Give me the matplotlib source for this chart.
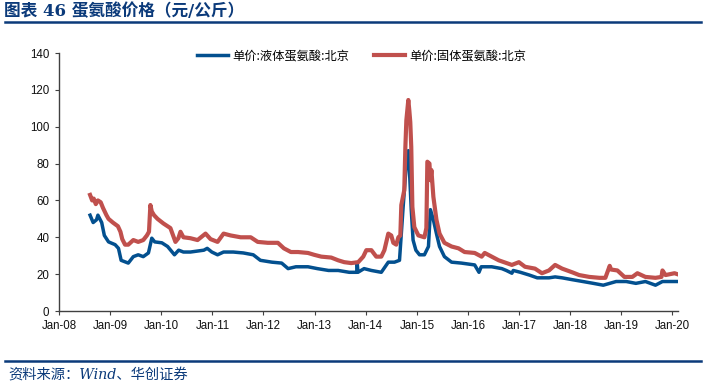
import matplotlib
matplotlib.use("Agg")
import matplotlib.pyplot as plt
import matplotlib.dates as mdates
from matplotlib.lines import Line2D
import pandas as pd

plt.rcParams['font.family'] = ['Liberation Sans', 'Noto Sans CJK SC', 'DejaVu Sans']

title_text = "图表 46 蛋氨酸价格（元/公斤）"
source_text = "资料来源：Wind、华创证券"
label_liquid = "单价:液体蛋氨酸:北京"
label_solid = "单价:固体蛋氨酸:北京"

solid_dates = [
    "2008-08-10", "2008-08-25", "2008-09-05", "2008-09-20", "2008-10-05", "2008-10-25",
    "2008-11-10", "2008-12-05", "2008-12-20", "2009-01-20", "2009-02-25", "2009-03-15",
    "2009-03-28", "2009-04-17", "2009-05-10", "2009-06-15", "2009-07-20", "2009-08-25",
    "2009-09-20", "2009-10-05", "2009-10-15", "2009-10-25", "2009-11-10", "2009-12-05",
    "2010-01-16", "2010-03-07", "2010-04-12", "2010-05-03", "2010-05-18", "2010-06-08",
    "2010-07-28", "2010-09-17", "2010-11-13", "2010-12-19", "2011-02-07", "2011-03-22",
    "2011-05-11", "2011-07-22", "2011-10-02", "2011-11-21", "2012-02-01", "2012-04-13",
    "2012-05-26", "2012-07-15", "2012-09-04", "2012-11-14", "2012-12-28", "2013-02-17",
    "2013-04-29", "2013-06-18", "2013-07-31", "2013-09-19", "2013-11-08", "2013-12-14",
    "2014-01-05", "2014-02-10", "2014-03-17", "2014-04-22", "2014-05-14", "2014-06-11",
    "2014-07-02", "2014-07-17", "2014-08-07", "2014-08-22", "2014-09-05", "2014-09-12",
    "2014-10-03", "2014-10-11", "2014-10-18", "2014-11-01", "2014-11-08", "2014-11-15",
    "2014-11-22", "2014-11-30", "2014-12-14", "2015-01-12", "2015-02-24", "2015-03-10",
    "2015-03-17", "2015-04-01", "2015-04-08", "2015-04-15", "2015-04-29", "2015-05-21",
    "2015-06-12", "2015-07-17", "2015-09-06", "2015-10-26", "2015-12-08", "2016-02-18",
    "2016-04-08", "2016-04-30", "2016-06-19", "2016-08-08", "2016-11-10", "2016-12-30",
    "2017-02-12", "2017-04-24", "2017-06-13", "2017-08-02", "2017-09-15", "2017-11-04",
    "2018-01-15", "2018-03-06", "2018-05-17", "2018-07-28", "2018-09-09", "2018-10-10",
    "2018-10-20", "2018-12-04", "2019-01-23", "2019-03-21", "2019-04-26", "2019-06-22",
    "2019-09-02", "2019-10-15", "2019-10-22", "2019-11-13", "2020-01-16", "2020-02-05",
]
solid_values = [
    63, 60, 61, 58, 60, 59,
    56, 52, 50, 48, 46, 43,
    39, 36, 36, 38.5, 37.5, 38.5,
    41, 43, 57.5, 54, 52, 50,
    47.5, 45, 37.5, 39.5, 43, 40,
    39.5, 38.5, 42, 39, 37.5, 42,
    41, 40, 40, 37.5, 37, 37,
    34, 32, 32, 31.5, 30.5, 29.5,
    29, 27.5, 26.5, 26, 26.5, 29.5,
    33, 33, 29.5, 29.5, 33, 42,
    41, 37, 36, 40, 41, 57.5,
    65.5, 89, 103.5, 114.5, 109, 102.5,
    89, 56.5, 45.5, 41, 40, 45,
    81, 80, 71, 76.5, 62, 49.5,
    42, 37, 35, 34, 32, 31.5,
    29.5, 31.5, 29.5, 27.5, 25, 26.5,
    24, 23, 20.5, 22, 25, 23,
    21, 19.5, 18.5, 18, 18, 24.5,
    22.5, 22, 18.5, 18.5, 20.5, 18.5,
    18, 18.5, 22, 19.5, 20.5, 20,
]

liquid_dates = [
    "2008-08-10", "2008-09-01", "2008-09-25", "2008-10-05", "2008-11-01", "2008-11-20",
    "2008-12-20", "2009-02-05", "2009-03-01", "2009-03-20", "2009-05-10", "2009-06-15",
    "2009-07-20", "2009-08-25", "2009-10-01", "2009-10-25", "2009-11-15", "2010-01-05",
    "2010-02-15", "2010-04-05", "2010-05-05", "2010-06-08", "2010-07-28", "2010-11-01",
    "2010-11-25", "2010-12-28", "2011-02-07", "2011-03-22", "2011-05-30", "2011-08-10",
    "2011-10-20", "2011-12-10", "2012-03-01", "2012-05-10", "2012-06-25", "2012-08-20",
    "2012-11-14", "2013-01-20", "2013-04-10", "2013-06-18", "2013-09-05", "2013-10-28",
    "2013-11-01", "2013-11-06", "2013-12-20", "2014-02-10", "2014-04-22", "2014-06-11",
    "2014-07-25", "2014-08-30", "2014-09-12", "2014-09-25", "2014-10-18", "2014-11-01",
    "2014-11-08", "2014-11-22", "2014-12-05", "2014-12-25", "2015-01-20", "2015-02-24",
    "2015-03-25", "2015-04-08", "2015-04-29", "2015-05-21", "2015-06-12", "2015-07-17",
    "2015-09-06", "2015-11-15", "2016-02-18", "2016-03-20", "2016-04-05", "2016-06-19",
    "2016-08-30", "2016-10-01", "2016-11-10", "2016-11-20", "2017-01-10", "2017-03-15",
    "2017-05-10", "2017-08-02", "2017-09-15", "2017-11-04", "2018-01-15", "2018-04-01",
    "2018-06-15", "2018-08-25", "2018-10-10", "2018-11-25", "2019-02-05", "2019-04-15",
    "2019-06-22", "2019-09-02", "2019-10-22", "2020-02-05",
]
liquid_values = [
    52, 48, 49.5, 52, 48, 41,
    37.5, 36, 34, 27.5, 26, 29.5,
    30.5, 29.5, 31.5, 39.5, 37.5, 37,
    35, 30.5, 33, 32, 32, 33,
    34, 32, 30.5, 32, 32, 31.5,
    30.5, 27.5, 26.5, 26, 23, 24,
    24, 23, 22, 22, 21, 21,
    26, 21, 23, 22, 21, 26.5,
    26.5, 27.5, 42, 56.5, 80, 87,
    78, 55, 38.5, 33, 30.5, 30.5,
    35, 55, 49.5, 42, 35, 29.5,
    26.5, 26, 25, 21, 24, 24,
    23, 22, 20.5, 22, 21, 19.5,
    18, 18, 18.5, 18, 17, 16,
    15, 14, 15, 16, 16, 15,
    16, 14, 16, 16,
]

yticks = [0, 20, 40, 60, 80, 100, 120, 140]
xtick_years = list(range(2008, 2021))

blue = "#03508F"
red = "#C0504D"
navy = "#0B3A7A"

fig = plt.figure(figsize=(7.09, 3.89), dpi=100)
ax = fig.add_axes([59/709, 1 - 311/389, (678 - 59)/709, (311 - 53)/389])

ax.plot(pd.to_datetime(liquid_dates), liquid_values, color=blue, lw=2.5, solid_joinstyle='round')
ax.plot(pd.to_datetime(solid_dates), solid_values, color=red, lw=3.0, solid_joinstyle='round')

ax.set_ylim(0, 140)
ax.set_yticks(yticks)
ax.set_xlim(pd.Timestamp("2008-01-01"), pd.Timestamp("2020-02-10"))
ax.set_xticks([pd.Timestamp(f"{y}-01-01") for y in xtick_years])
ax.xaxis.set_major_formatter(mdates.DateFormatter("Jan-%y"))

for s in ["top", "right"]:
    ax.spines[s].set_visible(False)
for s in ["left", "bottom"]:
    ax.spines[s].set_color("#404040")
    ax.spines[s].set_linewidth(1.0)
ax.tick_params(axis='both', labelsize=8.3, length=3, color="#404040", labelcolor="#111111")
ax.tick_params(axis='y', pad=4)

handles = [Line2D([], [], color=blue, lw=2.5), Line2D([], [], color=red, lw=3.0)]
fig.legend(handles, [label_liquid, label_solid], loc='center', bbox_to_anchor=(362/709, 1 - 56/389),
           ncol=2, frameon=False, handlelength=2.5, handletextpad=0.4, columnspacing=2.0,
           prop={'family': ['Noto Sans CJK SC', 'DejaVu Sans'], 'size': 8.8})

fig.text(4/709, 1 - 11/389, title_text, ha='left', va='center', fontsize=12, fontweight='bold',
         color=navy, family=['DejaVu Serif', 'Noto Sans CJK SC'])
fig.add_artist(Line2D([5/709, 701/709], [1 - 22/389, 1 - 22/389], color=navy, lw=1.8))
fig.add_artist(Line2D([5/709, 701/709], [1 - 361/389, 1 - 361/389], color=navy, lw=1.8))
fig.text(8/709, 1 - 376/389, source_text, ha='left', va='center', fontsize=10.3, style='italic',
         color=navy, family=['DejaVu Serif', 'Noto Sans CJK SC'])

fig.savefig("out.png", dpi=100)
